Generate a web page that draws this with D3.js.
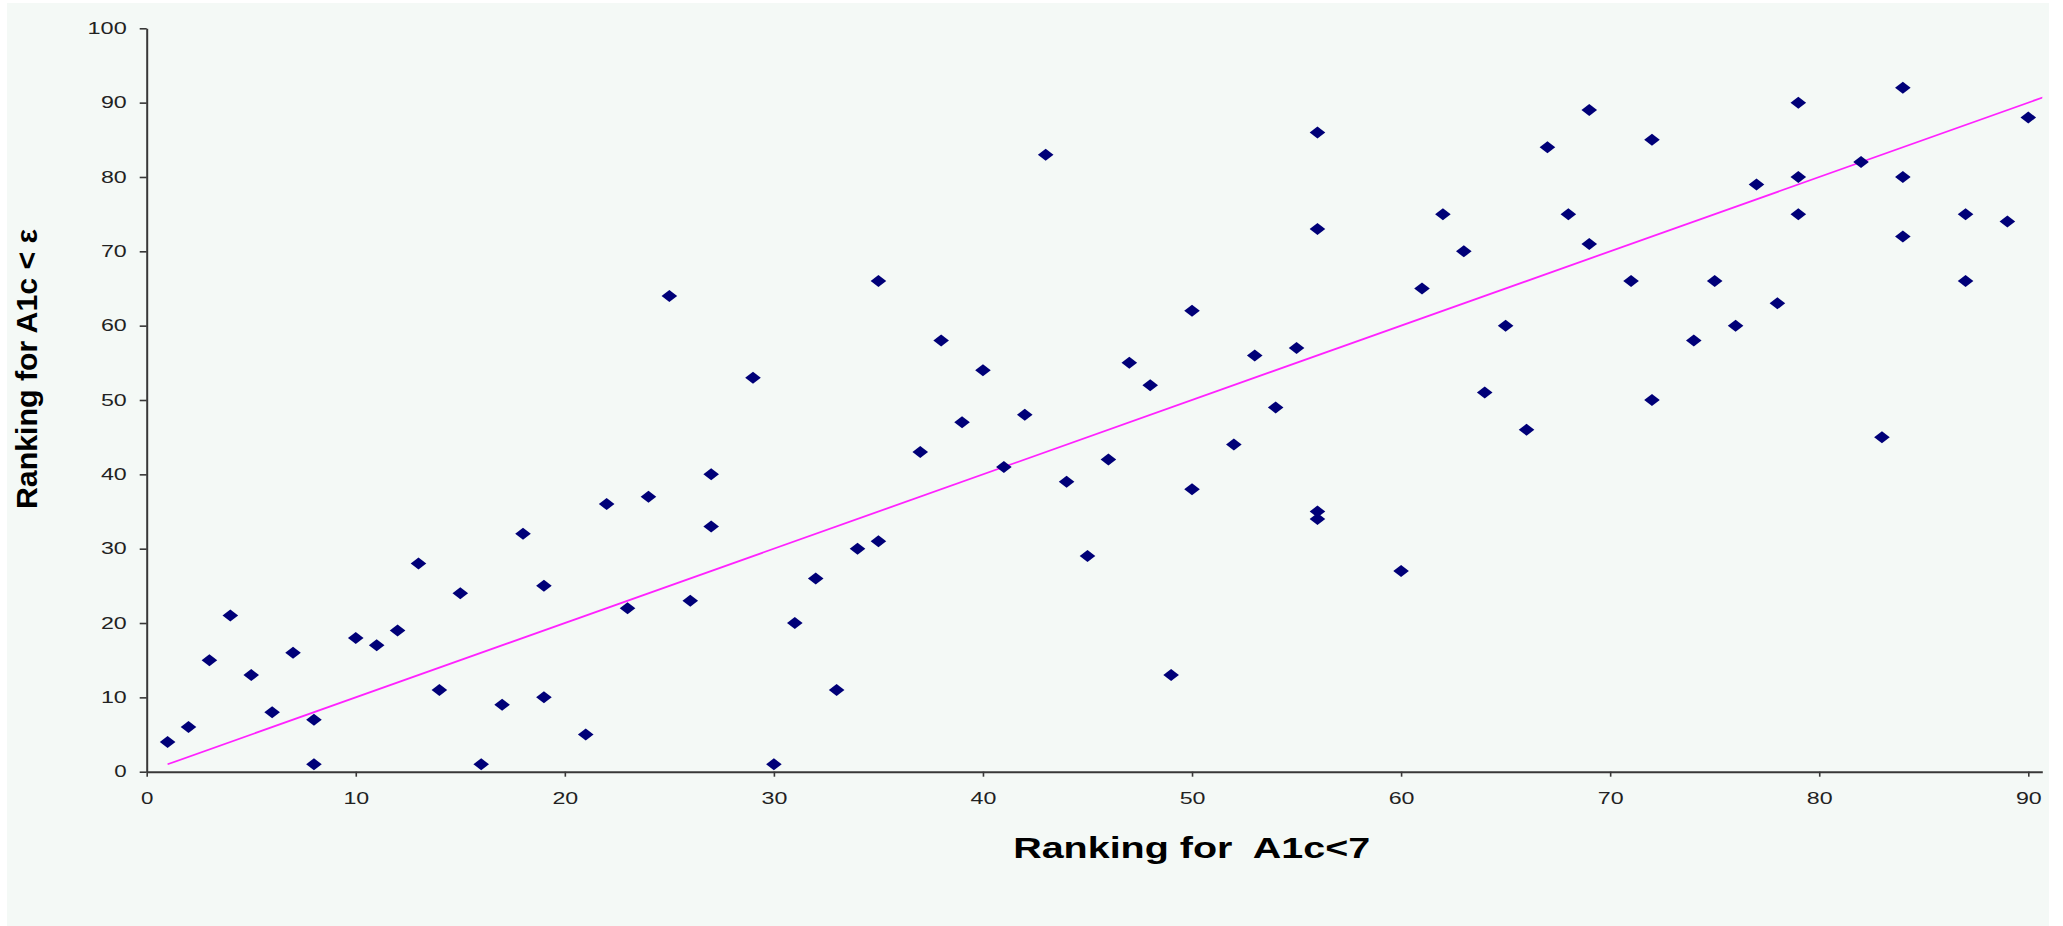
<!DOCTYPE html>
<html>
<head>
<meta charset="utf-8">
<script src="https://cdn.jsdelivr.net/npm/d3@7"></script>
<style>
  html, body { margin: 0; padding: 0; background: #ffffff; }
  svg { display: block; }
  text { font-family: "Liberation Sans", Arial, sans-serif; }
</style>
</head>
<body>
<svg id="chart" width="2063" height="926"></svg>
<script>
// Ranking of each unit for A1c<7 (x) against its ranking for A1c<8 (y)
const rankA1c7 = [1,2,3,4,5,6,7,8,8,10,11,12,13,14,15,16,17,18,19,19,21,22,23,24,25,26,27,27,29,30,31,32,33,34,35,35,37,38,39,40,41,42,43,44,45,46,47,48,49,50,50,52,53,54,55,56,56,56,56,60,61,62,63,64,65,66,67,68,69,69,71,72,72,74,75,76,77,78,79,79,79,82,83,84,84,84,87,87,89,90];
const rankA1c8 = [4,6,15,21,13,8,16,7,1,18,17,19,28,11,24,1,9,32,25,10,5,36,22,37,64,23,40,33,53,1,20,26,11,30,31,66,43,58,47,54,41,48,83,39,29,42,55,52,13,62,38,44,56,49,57,86,73,35,34,27,65,75,70,51,60,46,84,75,89,71,66,85,50,58,66,60,79,63,90,80,75,82,45,92,80,72,75,66,74,88];

// Line of equal ranking
const equalLineX = [1, 91];
const equalLineY = [1, 91];

const xTicks = [0,10,20,30,40,50,60,70,80,90];
const yTicks = [0,10,20,30,40,50,60,70,80,90,100];

const xTitle = "Ranking for  A1c<7";
const yTitle = "Ranking for A1c < \u03b5";

const svg = d3.select("#chart");

// chart panel background
svg.append("rect")
  .attr("x", 7).attr("y", 3)
  .attr("width", 2042).attr("height", 923)
  .attr("fill", "#f4f9f6");

const plotLeft = 146.7, plotRight = 2042.3, plotTop = 28.3, plotBottom = 771.7;

const x = d3.scaleLinear().domain([0, 90.67]).range([plotLeft, plotRight]);
const y = d3.scaleLinear().domain([0, 100]).range([plotBottom, plotTop]);

svg.append("defs").append("clipPath").attr("id", "plotClip")
  .append("rect")
  .attr("x", plotLeft).attr("y", plotTop - 5)
  .attr("width", plotRight - plotLeft).attr("height", plotBottom - plotTop + 5);

// equal-rank reference line
const lineData = equalLineX.map((v, i) => [v, equalLineY[i]]);
svg.append("path")
  .datum(lineData)
  .attr("clip-path", "url(#plotClip)")
  .attr("fill", "none")
  .attr("stroke", "#ff22ff")
  .attr("stroke-width", 1.8)
  .attr("d", d3.line().x(d => x(d[0])).y(d => y(d[1])));

// axes
const digitW = 13.4;
const yAxis = svg.append("g")
  .attr("transform", `translate(${plotLeft},0)`)
  .call(d3.axisLeft(y).tickValues(yTicks).tickSize(7).tickSizeOuter(0).tickPadding(13));
const xAxis = svg.append("g")
  .attr("transform", `translate(0,${plotBottom})`)
  .call(d3.axisBottom(x).tickValues(xTicks).tickSize(5).tickSizeOuter(0).tickPadding(16));

[yAxis, xAxis].forEach(g => {
  g.select(".domain").attr("stroke", "#383838").attr("stroke-width", 2);
  g.selectAll(".tick line").attr("stroke", "#383838").attr("stroke-width", 1.6);
  g.selectAll(".tick text")
    .attr("font-family", "'Liberation Sans', Arial, sans-serif")
    .attr("font-size", 16)
    .attr("fill", "#222")
    .attr("textLength", d => String(d).length * digitW - 1)
    .attr("lengthAdjust", "spacingAndGlyphs");
});

// data points (diamonds)
const diamond = "M0,-6L7.8,0L0,6L-7.8,0Z";
svg.append("g")
  .selectAll("path")
  .data(rankA1c7.map((v, i) => [v, rankA1c8[i]]))
  .join("path")
  .attr("d", diamond)
  .attr("transform", d => `translate(${x(d[0])},${y(d[1])})`)
  .attr("fill", "#000078");

// axis titles
svg.append("text")
  .attr("x", 1191.7).attr("y", 858.3)
  .attr("text-anchor", "middle")
  .attr("font-size", 30)
  .attr("font-weight", "bold")
  .attr("fill", "#000")
  .style("white-space", "pre")
  .attr("textLength", 357)
  .attr("lengthAdjust", "spacingAndGlyphs")
  .text(xTitle);

svg.append("text")
  .attr("transform", "translate(37,369) rotate(-90)")
  .attr("text-anchor", "middle")
  .attr("font-size", 30)
  .attr("font-weight", "bold")
  .attr("fill", "#000")
  .attr("textLength", 280)
  .attr("lengthAdjust", "spacingAndGlyphs")
  .text(yTitle);
</script>
</body>
</html>
